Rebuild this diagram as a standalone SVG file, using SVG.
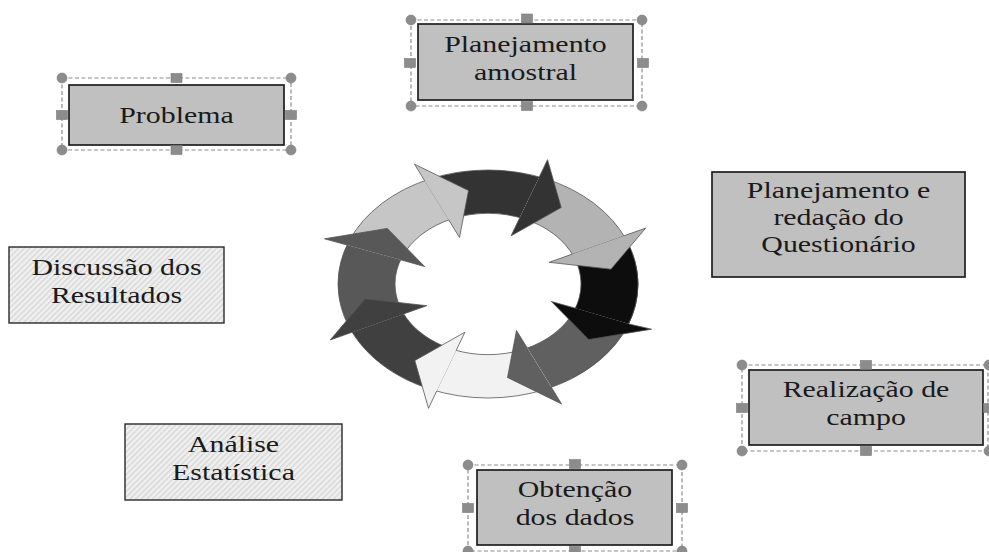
<svg xmlns="http://www.w3.org/2000/svg" width="989" height="552" viewBox="0 0 989 552">
<style>
.box{fill:#c0c0c0;stroke:#1e1e1e;stroke-width:1.7}
.hbox{fill:url(#hatch);stroke:#2a2a2a;stroke-width:1.4}
.sel{fill:none;stroke:#8c8c8c;stroke-width:1.2;stroke-dasharray:4 2.5}
.t{font-family:"Liberation Serif","Times New Roman",serif;font-size:23px;fill:#1a1a1a;text-anchor:middle}
.ring{stroke:none}
.edge{fill:none;stroke:#555;stroke-width:0.8}
.hd{stroke:#555;stroke-width:0.8;stroke-linejoin:miter}
</style>
<defs>
<pattern id="hatch" patternUnits="userSpaceOnUse" width="4" height="4" patternTransform="rotate(-45)">
<rect width="4" height="4" fill="#f0f0f0"/>
<rect width="4" height="1.4" fill="#d6d6d6"/>
</pattern>
<circle id="hc" r="5" fill="#8c8c8c" stroke="#7a7a7a" stroke-width="0.6"/>
<rect id="hs" x="-5.5" y="-4.5" width="11" height="9" fill="#8c8c8c" stroke="#7a7a7a" stroke-width="0.6"/>
</defs>
<rect width="989" height="552" fill="#ffffff"/>

<g id="problema">
<rect class="sel" x="62" y="78" width="229" height="72"/>
<rect class="box" x="69" y="85" width="215" height="60"/>
<use href="#hc" x="62" y="78"/><use href="#hc" x="291" y="78"/><use href="#hc" x="62" y="150"/><use href="#hc" x="291" y="150"/>
<use href="#hs" x="176.5" y="78"/><use href="#hs" x="176.5" y="150"/><use href="#hs" x="62" y="115"/><use href="#hs" x="291" y="115"/>
<text class="t" transform="translate(176.5,0) scale(1.3,1)"><tspan x="0" y="123">Problema</tspan></text>
</g>

<g id="planejamento-amostral">
<rect class="sel" x="411" y="20" width="231" height="86"/>
<rect class="box" x="418" y="24" width="215" height="76"/>
<use href="#hc" x="411" y="20"/><use href="#hc" x="642" y="20"/><use href="#hc" x="411" y="106"/><use href="#hc" x="642" y="106"/>
<use href="#hs" x="527" y="18.5"/><use href="#hs" x="527" y="106"/><use href="#hs" x="410" y="63"/><use href="#hs" x="643" y="63"/>
<text class="t" transform="translate(525.5,0) scale(1.3,1)"><tspan x="0" y="52">Planejamento</tspan><tspan x="0" y="80">amostral</tspan></text>
</g>

<g id="planejamento-questionario">
<rect class="box" x="712" y="172" width="253" height="105"/>
<text class="t" transform="translate(838.5,0) scale(1.3,1)"><tspan x="0" y="198">Planejamento e</tspan><tspan x="0" y="225">redação do</tspan><tspan x="0" y="252">Questionário</tspan></text>
</g>

<g id="discussao">
<rect class="hbox" x="9" y="247" width="215" height="76"/>
<text class="t" transform="translate(116.5,0) scale(1.3,1)"><tspan x="0" y="275">Discussão dos</tspan><tspan x="0" y="303">Resultados</tspan></text>
</g>

<g id="realizacao">
<rect class="sel" x="742" y="365" width="246" height="86"/>
<rect class="box" x="749" y="370" width="234" height="75"/>
<use href="#hc" x="742" y="365"/><use href="#hc" x="989" y="365"/><use href="#hc" x="742" y="451"/><use href="#hc" x="989" y="451"/>
<use href="#hs" x="866" y="365"/><use href="#hs" x="866" y="451"/><use href="#hs" x="742" y="408"/><use href="#hs" x="989" y="408"/>
<text class="t" transform="translate(866,0) scale(1.3,1)"><tspan x="0" y="397">Realização de</tspan><tspan x="0" y="425">campo</tspan></text>
</g>

<g id="obtencao">
<rect class="sel" x="468" y="465" width="214" height="86"/>
<rect class="box" x="477" y="470" width="195" height="75"/>
<use href="#hc" x="468" y="465"/><use href="#hc" x="682" y="465"/><use href="#hc" x="468" y="551"/><use href="#hc" x="682" y="551"/>
<use href="#hs" x="575" y="464"/><use href="#hs" x="575" y="551"/><use href="#hs" x="468" y="508"/><use href="#hs" x="682" y="508"/>
<text class="t" transform="translate(575,0) scale(1.3,1)"><tspan x="0" y="497">Obtenção</tspan><tspan x="0" y="525">dos dados</tspan></text>
</g>

<g id="analise">
<rect class="hbox" x="125" y="424" width="217" height="76"/>
<text class="t" transform="translate(233.5,0) scale(1.3,1)"><tspan x="0" y="452">Análise</tspan><tspan x="0" y="480">Estatística</tspan></text>
</g>

<g id="cycle">
<g class="ring">
<path fill="#c6c6c6" d="M347.0 245.0 A150 114 0 0 1 424.6 180.7 L448.7 219.9 A93 70.68 0 0 0 400.6 259.8 Z"/>
<path fill="#333333" d="M424.6 180.7 A150 114 0 0 1 539.3 176.9 L519.8 217.6 A93 70.68 0 0 0 448.7 219.9 Z"/>
<path fill="#b3b3b3" d="M539.3 176.9 A150 114 0 0 1 624.0 235.8 L572.3 254.1 A93 70.68 0 0 0 519.8 217.6 Z"/>
<path fill="#0d0d0d" d="M624.0 235.8 A150 114 0 0 1 629.0 324.0 L575.4 308.2 A93 70.68 0 0 0 572.3 254.1 Z"/>
<path fill="#606060" d="M629.0 324.0 A150 114 0 0 1 551.4 387.3 L527.3 348.1 A93 70.68 0 0 0 575.4 308.2 Z"/>
<path fill="#f2f2f2" d="M551.4 387.3 A150 114 0 0 1 436.7 391.1 L456.2 350.4 A93 70.68 0 0 0 527.3 348.1 Z"/>
<path fill="#404040" d="M436.7 391.1 A150 114 0 0 1 352.1 332.2 L403.7 313.9 A93 70.68 0 0 0 456.2 350.4 Z"/>
<path fill="#585858" d="M352.1 332.2 A150 114 0 0 1 347.0 245.0 L400.6 259.8 A93 70.68 0 0 0 403.7 313.9 Z"/>
</g>
<ellipse class="edge" cx="488" cy="284" rx="150" ry="114"/>
<ellipse class="edge" cx="488" cy="284" rx="93" ry="70.68"/>
<path class="hd" fill="#c6c6c6" d="M424.6 180.7 L414.5 164.2 L468.5 190.5 L459.5 237.5 L448.7 219.9"/>
<path class="hd" fill="#333333" d="M539.3 176.9 L547.5 159.7 L561.2 207.5 L511.1 235.8 L519.8 217.6"/>
<path class="hd" fill="#b3b3b3" d="M624.0 235.8 L645.7 228.1 L611.0 269.2 L549.2 262.3 L572.3 254.1"/>
<path class="hd" fill="#0d0d0d" d="M629.0 324.0 L651.5 329.2 L588.7 339.6 L551.4 301.5 L575.4 308.2"/>
<path class="hd" fill="#606060" d="M551.4 387.3 L561.5 403.9 L507.5 377.5 L516.5 330.5 L527.3 348.1"/>
<path class="hd" fill="#f2f2f2" d="M436.7 391.1 L428.5 408.3 L414.8 360.6 L464.9 332.2 L456.2 350.4"/>
<path class="hd" fill="#404040" d="M352.1 332.2 L330.3 339.9 L365.0 298.8 L426.8 305.7 L403.7 313.9"/>
<path class="hd" fill="#585858" d="M347.0 245.0 L324.5 238.8 L387.3 228.4 L424.6 266.5 L400.6 259.8"/>
</g>
<g id="connectors"/>
</svg>
